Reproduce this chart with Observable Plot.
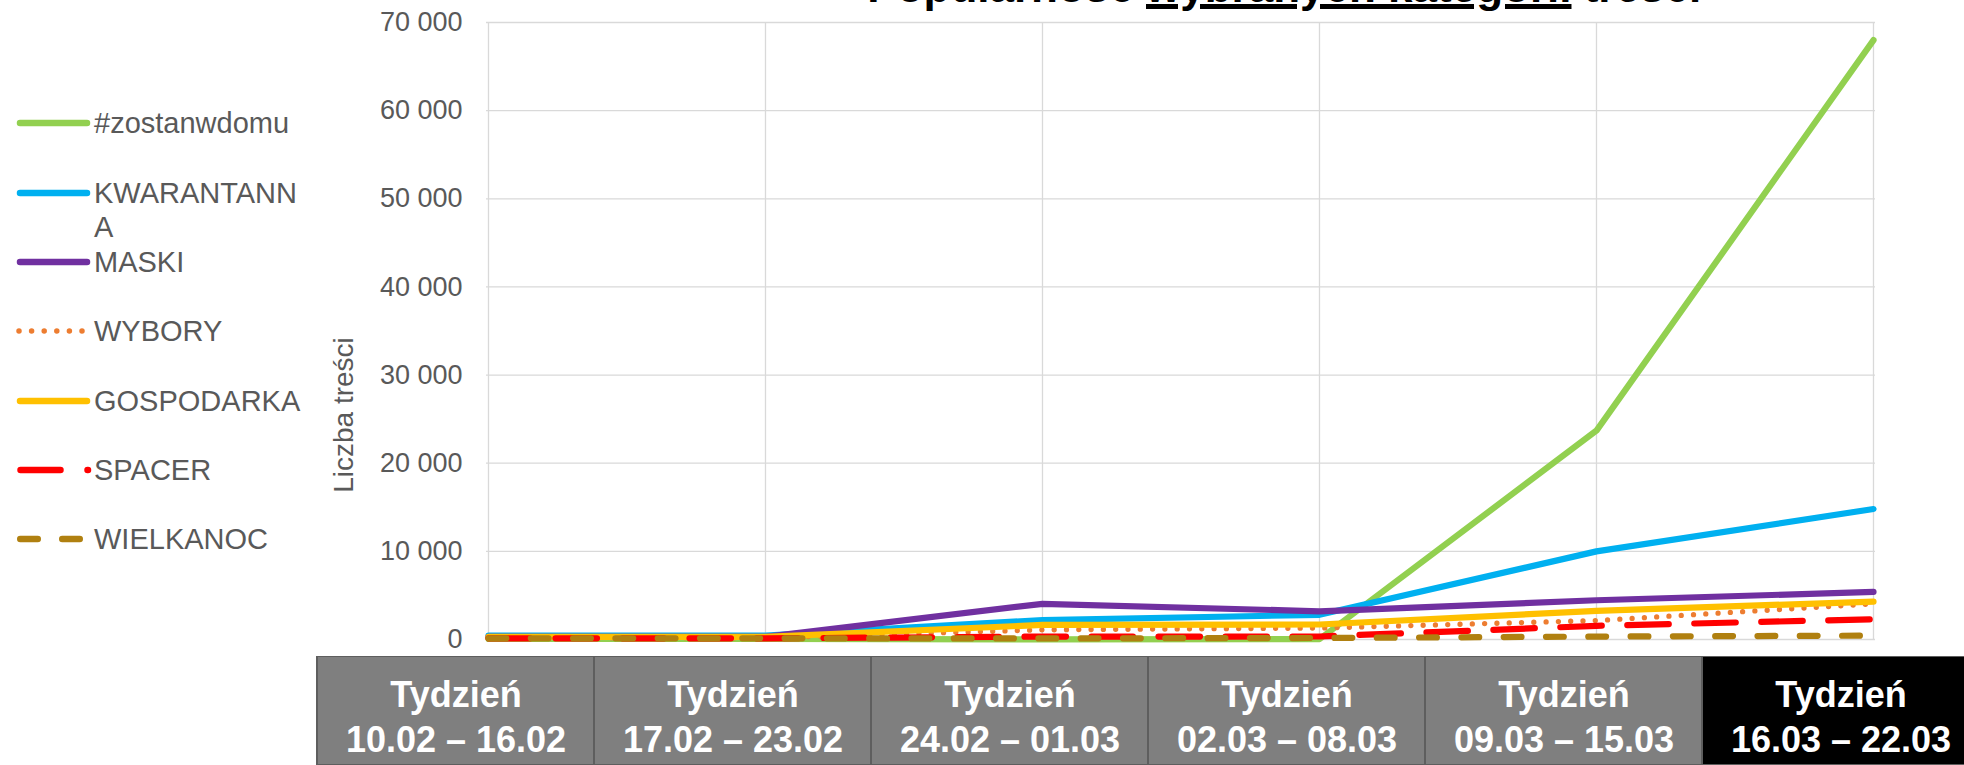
<!DOCTYPE html>
<html>
<head>
<meta charset="utf-8">
<script src="https://cdn.jsdelivr.net/npm/d3@7"></script>
<script src="https://cdn.jsdelivr.net/npm/@observablehq/plot@0.6"></script>
<style>
  html, body { margin: 0; padding: 0; background: white; overflow: hidden; }
  #wrap { position: relative; width: 1964px; height: 765px; overflow: hidden; font-family: "Liberation Sans", Arial, sans-serif; }
  #wrap > * { position: absolute; }
  #title { top: -35px; left: 870px; font-size: 44px; line-height: 44px; font-weight: bold; color: black; white-space: nowrap; z-index: 5; }
  #title u { text-decoration-thickness: 5px; text-underline-offset: 2px; }
</style>
</head>
<body>
<div id="wrap">
  <div id="main" style="left:0;top:0"></div>
  <div id="table" style="left:0;top:656px"></div>
  <div id="legend" style="left:0;top:0"></div>
  <div id="title">Popularność <u>wybranych kategorii</u> treści</div>
</div>
<script>
// ---- data ----
const weeks = ["10.02 – 16.02", "17.02 – 23.02", "24.02 – 01.03", "02.03 – 08.03", "09.03 – 15.03", "16.03 – 22.03"];
const seriesNames = ["#zostanwdomu", "KWARANTANNA", "MASKI", "WYBORY", "GOSPODARKA", "SPACER", "WIELKANOC"];
const zostanwdomu = [60, 60, 20, 40, 23700, 68000];
const kwarantanna = [450, 450, 2200, 2800, 10000, 14800];
const maski       = [300, 300, 4050, 3200, 4450, 5400];
const wybory      = [200, 200, 1100, 1300, 2150, 4050];
const gospodarka  = [300, 300, 1650, 1700, 3250, 4300];
const spacer      = [130, 130, 330, 340, 1550, 2300];
const wielkanoc   = [130, 130, 120, 170, 330, 440];
const yTicks = [0, 10000, 20000, 30000, 40000, 50000, 60000, 70000];
const yLabel = "Liczba treści";
const weekLabel = "Tydzień";

// ---- styles ----
const seriesValues = [zostanwdomu, kwarantanna, maski, wybory, gospodarka, spacer, wielkanoc];
const styles = [
  {color: "#92D050"},
  {color: "#00B0F0"},
  {color: "#7030A0"},
  {color: "#ED7D31", dash: "0 12.3", width: 5.3, legendDash: "0 12.6", legendWidth: 5.5, lx1: 19, lx2: 83},
  {color: "#FFC000"},
  {color: "#FF0000", dash: "41.5 25.5", legendDash: "40 27", lx1: 20.5, lx2: 88},
  {color: "#B08010", dash: "17.8 24.5", legendDash: "17.5 24.5", lx1: 20.25, lx2: 79.75}
];
const font = "'Liberation Sans', Arial, sans-serif";
const fmt = d3.formatLocale({decimal: ",", thousands: " ", grouping: [3], currency: ["", ""]}).format(",d");

const lineMarks = seriesNames.map((name, k) => {
  const rows = weeks.map((w, i) => ({week: w, value: seriesValues[k][i], name}));
  const s = styles[k];
  return Plot.line(rows, {
    x: "week", y: "value", stroke: s.color,
    strokeWidth: s.width ?? 6.2,
    strokeDasharray: s.dash,
    strokeLinecap: "round", strokeLinejoin: "round"
  });
});

const main = Plot.plot({
  width: 1964, height: 655,
  marginLeft: 486, marginRight: 89, marginTop: 22, marginBottom: 16,
  style: {fontFamily: font, fontSize: "27px", color: "#595959", background: "white", maxWidth: "none"},
  x: {type: "point", domain: weeks, padding: 0, axis: null},
  y: {domain: [0, 70000]},
  marks: [
    Plot.gridX(weeks, {stroke: "#d9d9d9", strokeOpacity: 1, strokeWidth: 1.3}),
    Plot.gridY(yTicks, {stroke: "#d9d9d9", strokeOpacity: 1, strokeWidth: 1.3}),
    Plot.axisY(yTicks, {tickSize: 0, tickPadding: 24, tickFormat: fmt, label: null, fill: "#595959", fontSize: 27}),
    ...lineMarks
  ]
});
document.getElementById("main").appendChild(main);

const table = Plot.plot({
  width: 1981, height: 109,
  marginLeft: 315, marginRight: 0, marginTop: 0, marginBottom: 0,
  style: {fontFamily: font, background: "white", maxWidth: "none"},
  x: {type: "band", domain: weeks, padding: 0, axis: null},
  color: {type: "identity"},
  marks: [
    Plot.cell(weeks, {x: d => d, fill: (d, i) => i === weeks.length - 1 ? "#000000" : "#7F7F7F", stroke: "#5E5E5E", strokeWidth: 2}),
    Plot.text(weeks, {x: d => d, text: d => weekLabel + "\n" + d, fill: "white", fontWeight: "bold", fontSize: 36, lineHeight: 1.25, dy: 4})
  ]
});
document.getElementById("table").appendChild(table);

// ---- legend + y-axis title ----
const legendY = [123, 193, 262, 331, 401, 470, 539];
const lg = d3.create("svg").attr("width", 380).attr("height", 600)
  .style("font-family", font).style("font-size", "29px");
seriesNames.forEach((name, k) => {
  const s = styles[k];
  const y = legendY[k];
  lg.append("line")
    .attr("x1", s.lx1 ?? 20).attr("x2", s.lx2 ?? 87)
    .attr("y1", y).attr("y2", y)
    .attr("stroke", s.color).attr("stroke-width", s.legendWidth ?? 6.5)
    .attr("stroke-linecap", "round")
    .attr("stroke-dasharray", s.legendDash ?? null);
  if (name === "KWARANTANNA") {
    lg.append("text").attr("x", 94).attr("y", y + 10.4).attr("fill", "#595959").text("KWARANTANN");
    lg.append("text").attr("x", 94).attr("y", y + 44.4).attr("fill", "#595959").text("A");
  } else {
    lg.append("text").attr("x", 94).attr("y", y + 10.4).attr("fill", "#595959").text(name);
  }
});
lg.append("text")
  .attr("transform", "translate(353,415) rotate(-90)")
  .attr("text-anchor", "middle")
  .attr("font-size", 28)
  .attr("fill", "#595959")
  .text(yLabel);
document.getElementById("legend").appendChild(lg.node());

// align the title's underlined part
const t = document.getElementById("title");
const u = t.querySelector("u");
const shift = 1146 - u.getBoundingClientRect().left;
t.style.left = (870 + shift) + "px";
</script>
</body>
</html>
